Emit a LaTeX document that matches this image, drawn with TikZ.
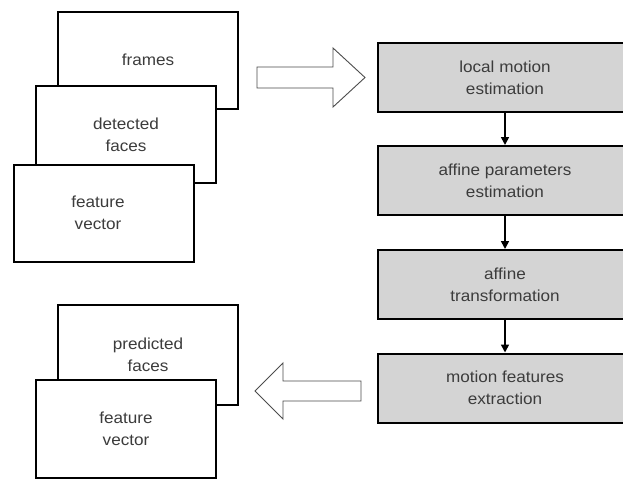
\documentclass[tikz,border=0pt]{standalone}
\usepackage{fontspec}
\setmainfont{Liberation Sans}[FakeStretch=1.07]
\usetikzlibrary{arrows.meta}
\definecolor{boxgray}{RGB}{212,212,212}
\definecolor{txtgray}{RGB}{60,60,60}
\tikzset{
  sheet/.style={draw=black, line width=2pt, fill=white, minimum width=180pt,
    minimum height=97pt, inner sep=0pt, align=center, text=txtgray,
    font=\fontsize{16}{22}\selectfont},
  stage/.style={draw=black, line width=2pt, fill=boxgray, minimum width=254pt,
    minimum height=69pt, inner sep=0pt, align=center, text=txtgray,
    font=\fontsize{16}{22}\selectfont},
  flow/.style={draw=black, line width=1.6pt, -{Triangle[length=8pt,width=8pt]}},
  blockarrow/.style={draw=black!70, line width=0.9pt, fill=white, line join=miter}
}
\begin{document}
\begin{tikzpicture}[x=1pt,y=-1pt]
\useasboundingbox (0,0) rectangle (623,480);
\fill[white] (0,0) rectangle (623,480);

% input stack
\node[sheet] (frames) at (148,60) {frames};
\node[sheet] (detected) at (126,134.5) {detected\\faces};
\node[sheet] (feat1) at (104,213) {\hspace*{-12pt}feature\\\hspace*{-12pt}vector};

% processing chain
\node[stage] (lme) at (505,77.5) {local motion\\estimation};
\node[stage] (ape) at (505,180.5) {affine parameters\\estimation};
\node[stage] (at) at (505,284.5) {affine\\transformation};
\node[stage] (mfe) at (505,388) {motion features\\extraction};

\draw[flow] (lme.south) -- (ape.north);
\draw[flow] (ape.south) -- (at.north);
\draw[flow] (at.south) -- (mfe.north);

% output stack
\node[sheet, minimum height=100pt] (predicted) at (148,355) {predicted\\faces};
\node[sheet, minimum height=98pt] (feat2) at (126,429) {feature\\vector};

% hollow block arrows: input stack -> chain, chain -> output stack
\coordinate (inA) at (257,77.5);
\coordinate (outA) at (361,391);
\draw[blockarrow] (inA) ++(0,-10.5) -- ++(76,0) -- ++(0,-19) -- ++(32,29.5)
  -- ++(-32,29.5) -- ++(0,-19) -- ++(-76,0) -- cycle;
\draw[blockarrow] (outA) ++(0,-10) -- ++(-78,0) -- ++(0,-18) -- ++(-28,28)
  -- ++(28,28) -- ++(0,-18) -- ++(78,0) -- cycle;
\end{tikzpicture}
\end{document}
